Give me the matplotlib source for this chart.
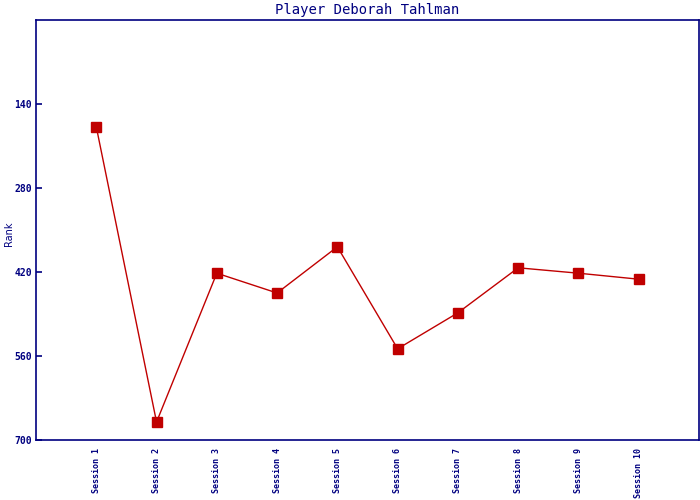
import matplotlib
matplotlib.use('Agg')
import matplotlib.pyplot as plt

# Data
sessions = ['Session 1', 'Session 2', 'Session 3', 'Session 4', 'Session 5',
            'Session 6', 'Session 7', 'Session 8', 'Session 9', 'Session 10']
ranks = [178, 670, 422, 455, 378, 548, 488, 413, 422, 432]
y_ticks = [140, 280, 420, 560, 700]

navy = '#000080'
red = '#C00000'
plt.rcParams['font.family'] = ['DejaVu Sans Mono']

fig = plt.figure(figsize=(7, 5), dpi=100)
ax = fig.add_axes([36 / 700, 60 / 500, 663 / 700, 420 / 500])

x = list(range(1, len(sessions) + 1))
ax.plot(x, ranks, color=red, linewidth=1, marker='s', markersize=7,
        markerfacecolor=red, markeredgecolor=red)

ax.set_xlim(0, 11)
ax.set_ylim(700, 0)
ax.set_yticks(y_ticks)
ax.set_yticklabels([str(v) for v in y_ticks], fontsize=7, color=navy,
                   fontweight='bold')
ax.set_xticks(x)
ax.set_xticklabels(sessions, rotation=90, fontsize=6, color=navy, va='top',
                   fontweight='bold')

ax.tick_params(axis='y', direction='in', length=4, width=1.2, color=navy, pad=3)
ax.tick_params(axis='x', length=0, pad=6)

for side in ['left', 'right', 'top', 'bottom']:
    ax.spines[side].set_color(navy)
    ax.spines[side].set_linewidth(1.2)

ax.set_title('Player Deborah Tahlman', fontsize=10, color=navy, pad=4)
ax.set_ylabel('Rank', fontsize=7, color=navy, family='DejaVu Sans')
ax.yaxis.set_label_coords(-22 / 663, 0.49)

fig.savefig('out.png', dpi=100)
